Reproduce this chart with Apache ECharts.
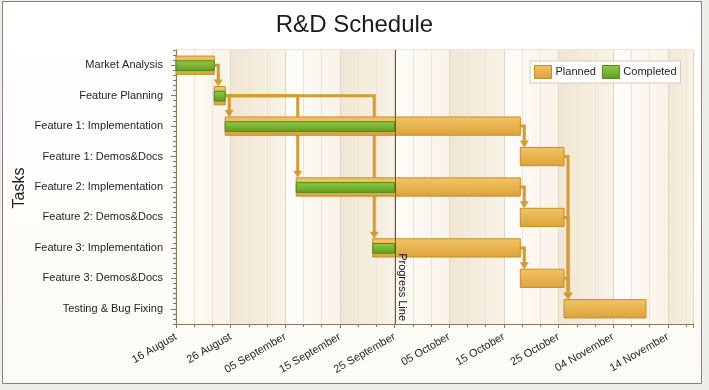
<!DOCTYPE html>
<html>
<head>
<meta charset="utf-8">
<script src="https://cdn.jsdelivr.net/npm/echarts@6/dist/echarts.min.js"></script>
<style>
html,body{margin:0;padding:0;background:#efeeea;}
#chart{width:709px;height:390px;}
</style>
</head>
<body>
<div id="chart"></div>
<script>
// ---- data ----
const tasks = ['Market Analysis', 'Feature Planning', 'Feature 1: Implementation', 'Feature 1: Demos&Docs',
  'Feature 2: Implementation', 'Feature 2: Demos&Docs', 'Feature 3: Implementation', 'Feature 3: Demos&Docs',
  'Testing & Bug Fixing'];
const plannedStart = ['2009-08-16', '2009-08-23', '2009-08-25', '2009-10-18', '2009-09-07', '2009-10-18',
  '2009-09-21', '2009-10-18', '2009-10-26'];
const plannedEnd = ['2009-08-23', '2009-08-25', '2009-10-18', '2009-10-26', '2009-10-18', '2009-10-26',
  '2009-10-18', '2009-10-26', '2009-11-10'];
const completedEnd = ['2009-08-23', '2009-08-25', '2009-09-25', null, '2009-09-25', null, '2009-09-25', null, null];
const dependencies = [[0, 1], [1, 2], [1, 4], [1, 6], [2, 3], [4, 5], [6, 7], [3, 8], [5, 8], [7, 8]];
const progressDate = '2009-09-25';
const axisStart = '2009-08-16';
const axisEndDays = 94.6;
const yAxisTitle = 'Tasks';
const monthNames = ['January', 'February', 'March', 'April', 'May', 'June', 'July', 'August', 'September',
  'October', 'November', 'December'];

// ---- helpers ----
const DAY = 86400000;
function utc(s) { const p = s.split('-').map(Number); return Date.UTC(p[0], p[1] - 1, p[2]); }
const base = utc(axisStart);
function dayOf(s) { return (utc(s) - base) / DAY; }
function fmtDay(v) {
  const d = new Date(base + v * DAY);
  const dd = d.getUTCDate();
  return (dd < 10 ? '0' + dd : dd) + ' ' + monthNames[d.getUTCMonth()];
}

const plannedData = tasks.map((t, i) => [i, dayOf(plannedStart[i]), dayOf(plannedEnd[i])]);
const completedData = [];
tasks.forEach((t, i) => { if (completedEnd[i]) completedData.push([i, dayOf(plannedStart[i]), dayOf(completedEnd[i])]); });
const depData = dependencies.map(d => [dayOf(plannedEnd[d[0]]), d[0], dayOf(plannedStart[d[1]]), d[1]]);
const minorCats = [];
for (let i = 0; i < tasks.length * 6; i++) minorCats.push(String(i));

const orangeGrad = new echarts.graphic.LinearGradient(0, 0, 0, 1, [
  { offset: 0, color: '#f3c565' }, { offset: 1, color: '#dca23a' }]);
const greenGrad = new echarts.graphic.LinearGradient(0, 0, 0, 1, [
  { offset: 0, color: '#93cb45' }, { offset: 1, color: '#5c9e1e' }]);
const lightBand = new echarts.graphic.LinearGradient(0, 0, 1, 0, [
  { offset: 0, color: '#fefdfa' }, { offset: 1, color: '#f9f3e8' }]);
const darkBand = new echarts.graphic.LinearGradient(0, 0, 1, 0, [
  { offset: 0, color: '#f1e6d3' }, { offset: 1, color: '#f8f2e7' }]);

const axisColor = '#8a7759';
const FONT = 'Liberation Sans';

const chart = echarts.init(document.getElementById('chart'), null, { renderer: 'canvas' });

const option = {
  animation: false,
  textStyle: { fontFamily: FONT },
  graphic: [
    { type: 'rect', z: -10, silent: true, shape: { x: 2.5, y: 1.5, width: 699, height: 382 },
      style: { fill: new echarts.graphic.LinearGradient(0, 0, 0, 1, [
        { offset: 0, color: '#ffffff' }, { offset: 1, color: '#fdfbf6' }]), stroke: '#8c7e72', lineWidth: 1 } },
    { type: 'text', silent: true, x: 19.5, y: 188, rotation: Math.PI / 2,
      style: { text: yAxisTitle, fontFamily: FONT, fontSize: 16, fill: '#1e1e1e',
        align: 'center', verticalAlign: 'middle' } }
  ],
  title: {
    text: 'R&D Schedule', left: 'center', top: 8,
    textStyle: { fontFamily: FONT, fontSize: 24, fontWeight: 'normal', color: '#1c1c1c' }
  },
  legend: {
    left: 530, top: 61, padding: [4, 4, 4, 4], itemGap: 6, itemWidth: 17, itemHeight: 13,
    backgroundColor: '#ffffff', borderColor: '#d6cab4', borderWidth: 1, icon: 'rect',
    textStyle: { fontFamily: FONT, fontSize: 11, color: '#1e1e1e', padding: [0, 0, 0, -1] },
    data: [
      { name: 'Planned', itemStyle: { color: orangeGrad, borderColor: '#c48d2b', borderWidth: 1 } },
      { name: 'Completed', itemStyle: { color: greenGrad, borderColor: '#4d8a1f', borderWidth: 1 } }
    ]
  },
  grid: { left: 176, right: 16, top: 50, bottom: 66, show: true, borderColor: '#d8ccb6', borderWidth: 1 },
  xAxis: {
    type: 'value', min: 0, max: axisEndDays, interval: 10,
    axisLine: { show: true, lineStyle: { color: axisColor, width: 1 } },
    axisTick: { show: true, length: 4, lineStyle: { color: axisColor } },
    minorTick: { show: true, splitNumber: 3, length: 3, lineStyle: { color: axisColor } },
    axisLabel: { rotate: 30, margin: 12, fontSize: 11, color: '#1e1e1e', fontFamily: FONT,
      formatter: v => fmtDay(v), showMaxLabel: false },
    splitLine: { show: true, lineStyle: { color: '#e3d7c1', width: 1 } },
    minorSplitLine: { show: true, lineStyle: { color: '#ede4d4', width: 1 } },
    splitArea: { show: true, areaStyle: { color: [lightBand, darkBand] } }
  },
  yAxis: [
    {
      type: 'category', data: tasks, inverse: true,
      axisLine: { show: true, lineStyle: { color: axisColor } },
      axisTick: { show: true, alignWithLabel: true, length: 5, interval: 0, lineStyle: { color: axisColor } },
      axisLabel: { interval: 0, margin: 13, fontSize: 11, color: '#1e1e1e', fontFamily: FONT },
      splitLine: { show: false }
    },
    {
      type: 'category', data: minorCats, inverse: true, position: 'left',
      axisLine: { show: false },
      axisTick: { show: true, length: 3, interval: 0, lineStyle: { color: axisColor } },
      axisLabel: { show: false },
      splitLine: { show: true, interval: (i) => i % 6 === 3, lineStyle: { color: '#e3d7c1' } }
    }
  ],
  series: [
    {
      type: 'custom', name: 'deps', z: 2, silent: true,
      coordinateSystem: 'cartesian2d', xAxisIndex: 0, yAxisIndex: 0,
      encode: { x: [0, 2], y: [1, 3] },
      data: depData,
      renderItem: function (params, api) {
        const s = api.coord([api.value(0), api.value(1)]);
        const t = api.coord([api.value(2), api.value(3)]);
        const band = api.size([0, 1])[1];
        const barH = band * 0.6;
        const xv = Math.max(s[0] + 4, t[0] + 1.5);
        const top = t[1] - barH / 2;
        const col = '#d39b30';
        return {
          type: 'group',
          children: [
            { type: 'polyline', shape: { points: [[s[0], s[1]], [xv, s[1]], [xv, top - 5]] },
              style: { stroke: col, lineWidth: 3, fill: null } },
            { type: 'polygon', shape: { points: [[xv - 4.5, top - 7], [xv + 4.5, top - 7], [xv, top]] },
              style: { fill: col } }
          ]
        };
      }
    },
    {
      type: 'custom', name: 'Planned', z: 3,
      coordinateSystem: 'cartesian2d', xAxisIndex: 0, yAxisIndex: 0,
      itemStyle: { color: orangeGrad },
      encode: { x: [1, 2], y: 0 },
      data: plannedData,
      renderItem: function (params, api) {
        const a = api.coord([api.value(1), api.value(0)]);
        const b = api.coord([api.value(2), api.value(0)]);
        const band = api.size([0, 1])[1];
        const h = band * 0.6;
        return {
          type: 'rect',
          shape: { x: a[0], y: a[1] - h / 2, width: b[0] - a[0], height: h },
          style: { fill: new echarts.graphic.LinearGradient(0, 0, 0, 1, [
            { offset: 0, color: '#f3c565' }, { offset: 1, color: '#dca23a' }]),
            stroke: '#c48d2b', lineWidth: 1 }
        };
      }
    },
    {
      type: 'custom', name: 'Completed', z: 4,
      coordinateSystem: 'cartesian2d', xAxisIndex: 0, yAxisIndex: 0,
      itemStyle: { color: greenGrad },
      encode: { x: [1, 2], y: 0 },
      data: completedData,
      renderItem: function (params, api) {
        const a = api.coord([api.value(1), api.value(0)]);
        const b = api.coord([api.value(2), api.value(0)]);
        const band = api.size([0, 1])[1];
        const h = band * 0.32;
        return {
          type: 'rect',
          shape: { x: a[0], y: a[1] - h / 2 + 0.5, width: b[0] - a[0], height: h },
          style: { fill: new echarts.graphic.LinearGradient(0, 0, 0, 1, [
            { offset: 0, color: '#93cb45' }, { offset: 1, color: '#5c9e1e' }]),
            stroke: '#4d8a1f', lineWidth: 1 }
        };
      }
    },
    {
      type: 'custom', name: 'progress', z: 6, silent: true,
      coordinateSystem: 'cartesian2d', xAxisIndex: 0, yAxisIndex: 0,
      encode: { x: 0 },
      data: [[dayOf(progressDate)]],
      renderItem: function (params, api) {
        const cs = params.coordSys;
        const x = Math.round(api.coord([api.value(0), 0])[0]) + 0.5;
        const bottom = cs.y + cs.height;
        return {
          type: 'group',
          children: [
            { type: 'line', shape: { x1: x, y1: cs.y, x2: x, y2: bottom },
              style: { stroke: '#6b5636', lineWidth: 1 } },
            { type: 'text', x: x + 1, y: bottom - 3, rotation: -Math.PI / 2,
              style: { text: 'Progress Line', fontFamily: FONT, fontSize: 11, fill: '#111111',
                align: 'right', verticalAlign: 'bottom' } }
          ]
        };
      }
    }
  ]
};
chart.setOption(option);
</script>
</body>
</html>
